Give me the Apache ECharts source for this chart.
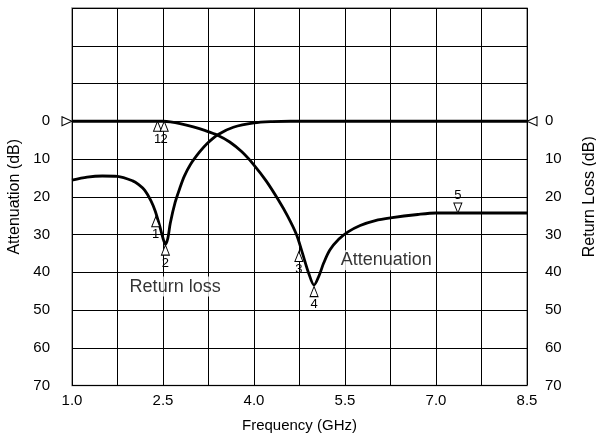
<!DOCTYPE html>
<html><head><meta charset="utf-8">
<script src="https://cdn.jsdelivr.net/npm/echarts@6/dist/echarts.min.js"></script>
<style>html,body{margin:0;padding:0;background:#fff}#c{width:596px;height:435px}</style>
</head><body><div id="c"></div>
<script>
// Tick labels
const xTickLabels = ['1.0', '2.5', '4.0', '5.5', '7.0', '8.5'];
const yTickLabels = ['0', '10', '20', '30', '40', '50', '60', '70'];

// Attenuation curve (GHz, dB)
const attFreq = [1.0, 2.0, 2.5, 2.62, 2.8, 3.0, 3.2, 3.4, 3.6, 3.8, 4.0, 4.2, 4.4, 4.55, 4.7, 4.8, 4.9, 4.99, 5.07, 5.15, 5.25, 5.4, 5.55, 5.75, 6.0, 6.25, 6.7, 7.0, 8.5];
const attLoss = [0, 0, 0, 0.15, 0.7, 1.5, 2.5, 3.7, 5.5, 8.1, 11.6, 15.8, 20.8, 25.0, 30.0, 35.0, 40.2, 43.4, 41.0, 37.5, 34.1, 31.2, 29.3, 27.6, 26.3, 25.6, 24.7, 24.3, 24.3];

// Return loss curve (GHz, dB)
const rlFreq = [1.0, 1.25, 1.5, 1.75, 2.0, 2.1, 2.2, 2.3, 2.37, 2.45, 2.5, 2.54, 2.58, 2.62, 2.7, 2.78, 2.85, 2.95, 3.1, 3.22, 3.41, 3.66, 4.0, 4.3, 4.6, 8.5];
const rlLoss = [15.6, 14.8, 14.5, 14.6, 15.8, 16.8, 18.3, 21.0, 23.7, 28.0, 31.0, 32.6, 31.0, 27.0, 21.5, 17.6, 14.6, 11.5, 8.2, 6.0, 3.5, 1.6, 0.45, 0.1, 0, 0];

// Markers (apex on the curve)
const markUpFreq = [2.41, 2.52, 2.38, 2.54, 4.74, 4.99];
const markUpVal = [0, 0, 25.3, 32.8, 34.5, 43.8];
const markUpText = ['1', '2', '1', '2', '3', '4'];
const markDownFreq = [7.36];
const markDownVal = [24.3];
const markDownText = ['5'];

// Curve annotations
const noteText = ['Return loss', 'Attenuation'];
const noteFreq = [2.70, 6.18];
const noteVal = [43.8, 36.8];

const FONT = '"Liberation Sans", Arial, Helvetica, sans-serif';
const zip = (a, b) => a.map((v, i) => [v, b[i]]);

const chart = echarts.init(document.getElementById('c'), null, {renderer: 'canvas'});
const yCommon = {
  type: 'value', min: -30, max: 70, interval: 10, inverse: true,
  axisLine: {show: false}, axisTick: {show: false},
  nameLocation: 'middle',
  nameTextStyle: {fontFamily: FONT, fontSize: 16, color: '#000'},
  axisLabel: {
    fontFamily: FONT, fontSize: 15, color: '#000',
    formatter: v => (v >= 0 ? yTickLabels[Math.round(v / 10)] : '')
  }
};
chart.setOption({
  animation: false,
  backgroundColor: '#fff',
  grid: {left: 72, right: 69, top: 8, bottom: 49.5, containLabel: false, outerBoundsMode: 'none',
         show: true, borderColor: '#888', borderWidth: 1.5, backgroundColor: 'transparent'},
  xAxis: [
    {type: 'value', min: 1, max: 8.5, show: false},
    {
      type: 'value', min: 0, max: 10, interval: 1, position: 'bottom',
      axisLine: {show: false}, axisTick: {show: false},
      splitLine: {show: true, lineStyle: {color: '#000', width: 1}},
      axisLabel: {
        fontFamily: FONT, fontSize: 15, color: '#000', margin: 8,
        formatter: v => (v % 2 === 0 ? xTickLabels[v / 2] : '')
      },
      name: 'Frequency (GHz)', nameLocation: 'middle', nameGap: 33,
      nameTextStyle: {fontFamily: FONT, fontSize: 15, color: '#000'}
    }
  ],
  yAxis: [
    Object.assign({}, yCommon, {
      position: 'left', name: 'Attenuation (dB)', nameGap: 43,
      splitLine: {show: true, lineStyle: {color: '#000', width: 1}},
      axisLabel: Object.assign({}, yCommon.axisLabel, {margin: 22})
    }),
    Object.assign({}, yCommon, {
      position: 'right', name: 'Return Loss (dB)', nameGap: 55,
      splitLine: {show: false},
      axisLabel: Object.assign({}, yCommon.axisLabel, {margin: 18})
    })
  ],
  series: [
    {
      type: 'line', name: 'Attenuation', xAxisIndex: 0, yAxisIndex: 0,
      data: zip(attFreq, attLoss), showSymbol: false, smooth: 0.3,
      lineStyle: {color: '#000', width: 2.8}, z: 3
    },
    {
      type: 'line', name: 'Return loss', xAxisIndex: 0, yAxisIndex: 1,
      data: zip(rlFreq, rlLoss), showSymbol: false, smooth: 0.3,
      lineStyle: {color: '#000', width: 2.8}, z: 3
    },
    {
      type: 'scatter', xAxisIndex: 0, yAxisIndex: 0, z: 5,
      data: markUpFreq.map((f, i) => ({value: [f, markUpVal[i]], label: {formatter: markUpText[i]}})),
      symbol: 'path://M5,0 L10,10 L0,10 Z', symbolSize: [8, 10], symbolOffset: [0, 5],
      itemStyle: {color: '#fff', borderColor: '#000', borderWidth: 1, opacity: 1},
      label: {show: true, position: 'bottom', distance: 1, fontFamily: FONT, fontSize: 13, color: '#000'}
    },
    {
      type: 'scatter', xAxisIndex: 0, yAxisIndex: 0, z: 5,
      data: markDownFreq.map((f, i) => ({value: [f, markDownVal[i]], label: {formatter: markDownText[i]}})),
      symbol: 'path://M0,0 L10,0 L5,10 Z', symbolSize: [8, 10], symbolOffset: [0, -5],
      itemStyle: {color: '#fff', borderColor: '#000', borderWidth: 1, opacity: 1},
      label: {show: true, position: 'top', distance: 1, fontFamily: FONT, fontSize: 13, color: '#000'}
    },
    {
      type: 'scatter', xAxisIndex: 0, yAxisIndex: 0, z: 5, clip: false,
      data: [
        {value: [1.0, 0], symbol: 'path://M0,0 L10,5 L0,10 Z', symbolOffset: [-5, 0]},
        {value: [8.5, 0], symbol: 'path://M10,0 L0,5 L10,10 Z', symbolOffset: [5, 0]}
      ],
      symbolSize: [10, 9],
      itemStyle: {color: '#fff', borderColor: '#000', borderWidth: 1, opacity: 1}
    },
    {
      type: 'scatter', xAxisIndex: 0, yAxisIndex: 0, z: 4,
      data: noteFreq.map((f, i) => ({value: [f, noteVal[i]], label: {formatter: noteText[i]}})),
      symbolSize: 1, itemStyle: {color: 'rgba(0,0,0,0)'},
      label: {
        show: true, position: 'inside', fontFamily: FONT, fontSize: 18, color: '#000',
        backgroundColor: '#fff', padding: [1, 2]
      }
    }
  ]
});
</script></body></html>
